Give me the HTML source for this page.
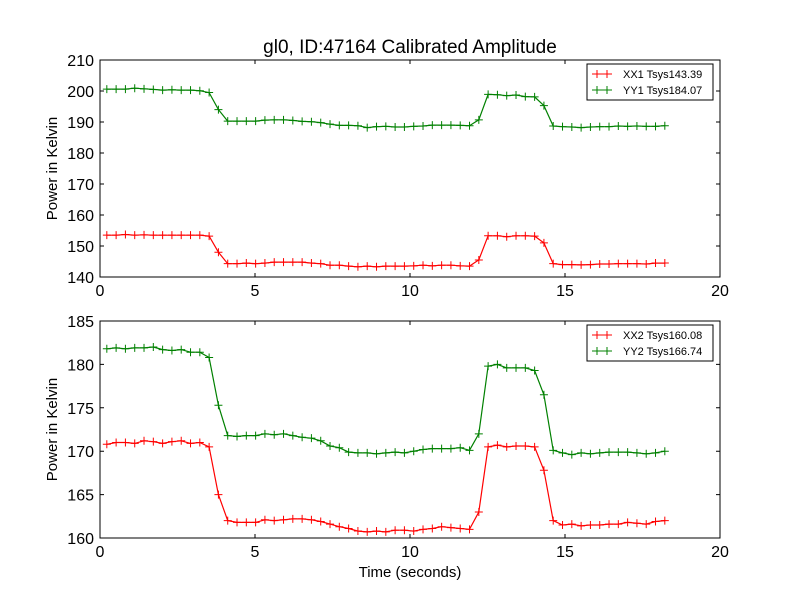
<!DOCTYPE html>
<html><head><meta charset="utf-8"><style>
body{margin:0;background:#fff;font-family:"Liberation Sans",sans-serif}
svg{display:block}
text{font-family:"Liberation Sans",sans-serif}
</style></head><body>
<svg id="c" width="800" height="600" viewBox="0 0 800 600"></svg>
<script>
const times=[0.22,0.52,0.82,1.12,1.42,1.72,2.02,2.32,2.62,2.92,3.22,3.52,3.82,4.12,4.42,4.72,5.02,5.32,5.62,5.92,6.22,6.52,6.82,7.12,7.42,7.72,8.02,8.32,8.62,8.92,9.22,9.52,9.82,10.12,10.42,10.72,11.02,11.32,11.62,11.92,12.22,12.52,12.82,13.12,13.42,13.72,14.02,14.32,14.62,14.92,15.22,15.52,15.82,16.12,16.42,16.72,17.02,17.32,17.62,17.92,18.22];
const xx1=[153.5,153.5,153.7,153.5,153.6,153.5,153.5,153.5,153.5,153.5,153.5,153.2,148,144.3,144.3,144.5,144.3,144.5,144.8,144.8,144.8,144.8,144.5,144.3,143.8,143.8,143.5,143.3,143.5,143.3,143.5,143.5,143.5,143.6,143.8,143.6,143.8,143.8,143.6,143.5,145.5,153.3,153.3,153,153.3,153.3,153.2,151,144.3,144,144,143.9,144,144.2,144.2,144.3,144.3,144.3,144.2,144.5,144.5];
const yy1=[200.6,200.6,200.6,200.9,200.7,200.5,200.3,200.4,200.3,200.3,200.1,199.5,194,190.3,190.3,190.3,190.3,190.6,190.7,190.7,190.5,190.2,190.1,189.8,189.3,188.9,188.9,188.8,188.2,188.5,188.6,188.4,188.4,188.6,188.7,189,189,189,188.9,188.8,190.7,198.9,198.8,198.5,198.7,198.2,198.1,195.3,188.7,188.5,188.4,188.2,188.4,188.5,188.5,188.7,188.6,188.7,188.6,188.6,188.8];
const xx2=[170.8,171,171,170.9,171.2,171.1,170.9,171.1,171.2,170.9,171,170.5,165,162,161.8,161.8,161.8,162.1,162,162.1,162.2,162.2,162.1,161.9,161.6,161.3,161.1,160.8,160.7,160.8,160.7,160.9,160.9,160.8,161,161.1,161.3,161.2,161.1,161,163,170.5,170.7,170.5,170.6,170.6,170.5,167.8,162,161.5,161.6,161.4,161.5,161.5,161.6,161.6,161.8,161.7,161.6,161.9,162];
const yy2=[181.8,181.9,181.8,181.9,181.9,182,181.7,181.6,181.7,181.4,181.4,180.8,175.3,171.8,171.7,171.8,171.8,172,171.9,172,171.8,171.6,171.5,171.2,170.6,170.4,169.9,169.8,169.8,169.7,169.8,169.9,169.8,170,170.2,170.3,170.3,170.3,170.4,170.1,172,179.8,180,179.6,179.6,179.6,179.3,176.5,170.1,169.8,169.6,169.8,169.7,169.8,169.9,169.9,169.9,169.8,169.7,169.8,170];
const xTicks=[0,5,10,15,20];
const yTicksTop=[140,150,160,170,180,190,200,210];
const yTicksBot=[160,165,170,175,180,185];
const NS="http://www.w3.org/2000/svg";
const svg=document.getElementById('c');
function mk(tag,attrs,parent){const e=document.createElementNS(NS,tag);for(const k in attrs)e.setAttribute(k,attrs[k]);(parent||svg).appendChild(e);return e;}
function panel(name,top,bottom,ymin,ymax,yTicks,series,labels){
  const L=100,R=720;
  const g=mk('g',{});
  
  
  const xs=v=>L+(v-0)/(20-0)*(R-L);
  const ys=v=>bottom-(v-ymin)/(ymax-ymin)*(bottom-top);
  mk('rect',{x:L,y:top,width:R-L,height:bottom-top,fill:'#fff'},g);
  series.forEach(s=>{
    const pts=times.map((t,i)=>xs(t).toFixed(1)+','+ys(s.data[i]).toFixed(1)).join(' ');
    const pl=mk('polyline',{points:pts,fill:'none',stroke:s.color,'stroke-width':1.2},g);
    
    
    times.forEach((t,i)=>{const x=xs(t),y=ys(s.data[i]);
      mk('path',{d:`M${x-4},${y}H${x+4}M${x},${y-4}V${y+4}`,stroke:s.color,'stroke-width':1},g);});
  });
  mk('rect',{x:L,y:top,width:R-L,height:bottom-top,fill:'none',stroke:'#000','stroke-width':1},g);
  xTicks.forEach(v=>{const x=xs(v);
    mk('path',{d:`M${x},${bottom}v-4M${x},${top}v4`,stroke:'#000'},g);
    const t=mk('text',{x:x,y:bottom+19,'text-anchor':'middle','font-size':16},g);t.textContent=v;
    
    });
  yTicks.forEach(v=>{const y=ys(v);
    mk('path',{d:`M${L},${y}h4M${R},${y}h-4`,stroke:'#000'},g);
    const t=mk('text',{x:L-6,y:y+6,'text-anchor':'end','font-size':16},g);t.textContent=v;
    
    });
  const yl=mk('text',{x:57,y:(top+bottom)/2,'text-anchor':'middle','font-size':15,transform:`rotate(-90 57 ${(top+bottom)/2})`},g);
  yl.textContent='Power in Kelvin';
  
  
  const lg=mk('g',{},g);
  
  
  mk('rect',{x:587,y:top+4,width:126,height:36,fill:'#fff',stroke:'#000','stroke-width':1},lg);
  series.forEach((s,i)=>{const y=top+14+i*16;
    mk('path',{d:`M592,${y}H612M597,${y-4}v8M607,${y-4}v8`,stroke:s.color},lg);
    const t=mk('text',{x:623,y:y+4,'font-size':11},lg);t.textContent=labels[i];
    
    });
}
panel('top-panel',60,277,140,210,yTicksTop,[{data:xx1,color:'#ff0000',name:'xx1'},{data:yy1,color:'#008000',name:'yy1'}],['XX1 Tsys143.39','YY1 Tsys184.07']);
panel('bottom-panel',321,538,160,185,yTicksBot,[{data:xx2,color:'#ff0000',name:'xx2'},{data:yy2,color:'#008000',name:'yy2'}],['XX2 Tsys160.08','YY2 Tsys166.74']);
const title=mk('text',{x:410,y:53,'text-anchor':'middle','font-size':19});
title.textContent='gl0, ID:47164 Calibrated Amplitude';


const xt=mk('text',{x:410,y:577,'text-anchor':'middle','font-size':15});
xt.textContent='Time (seconds)';


</script>
</body></html>
